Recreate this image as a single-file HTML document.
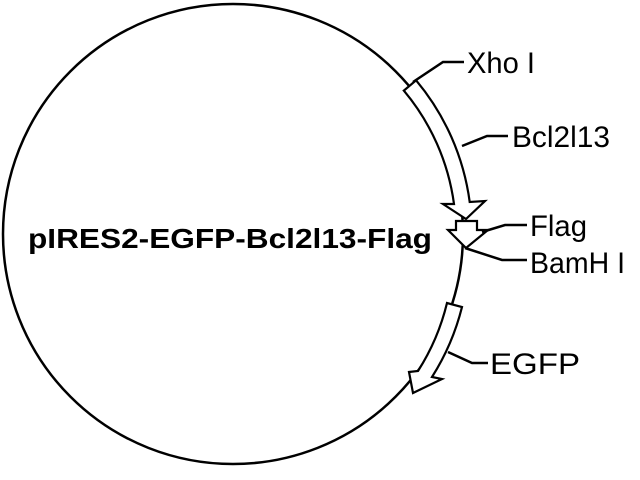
<!DOCTYPE html>
<html><head><meta charset="utf-8"><style>html,body{margin:0;padding:0;background:#fff}svg{display:block}</style></head>
<body>
<svg width="640" height="480" viewBox="0 0 640 480" xmlns="http://www.w3.org/2000/svg" font-family="Liberation Sans, sans-serif">
<circle cx="233" cy="234" r="230" fill="none" stroke="#000" stroke-width="2.5"/>
<g fill="#fff" stroke="#000" stroke-width="2.2" stroke-linejoin="miter">
<path d="M416.1,80.3 A239 239 0 0 1 469.7,202 L485,201 L466,219 L443,204 L454,204 A223 223 0 0 0 403.8,90.6 Z"/>
<path d="M477,221 L477,230 L488,230 L466,248 L448,230 L456,230 L456,221 Z"/>
<path d="M462,307 A239 239 0 0 1 432,377 L442,379 L413,393 L409,372 L418,371 A224 224 0 0 0 447,303 Z"/>
</g>
<g fill="none" stroke="#000" stroke-width="2.5">
<polyline points="413,82 443,62 464,62"/>
<polyline points="462,146 487,136 508,136"/>
<polyline points="482,232 505,225 527,225"/>
<polyline points="465,248 502,260 527,260"/>
<polyline points="448,352 472,363 488,363"/>
</g>
<g font-size="30" fill="#000">
<text x="467" y="73" textLength="68" lengthAdjust="spacingAndGlyphs">Xho I</text>
<text x="512" y="147" textLength="98" lengthAdjust="spacingAndGlyphs">Bcl2l13</text>
<text x="530" y="236" textLength="57" lengthAdjust="spacingAndGlyphs">Flag</text>
<text x="530" y="273" textLength="95" lengthAdjust="spacingAndGlyphs">BamH I</text>
<text x="490" y="374" textLength="90" lengthAdjust="spacingAndGlyphs">EGFP</text>
</g>
<text x="28" y="248" font-size="28" font-weight="bold" textLength="404" lengthAdjust="spacingAndGlyphs">pIRES2-EGFP-Bcl2l13-Flag</text>
</svg>
</body></html>
